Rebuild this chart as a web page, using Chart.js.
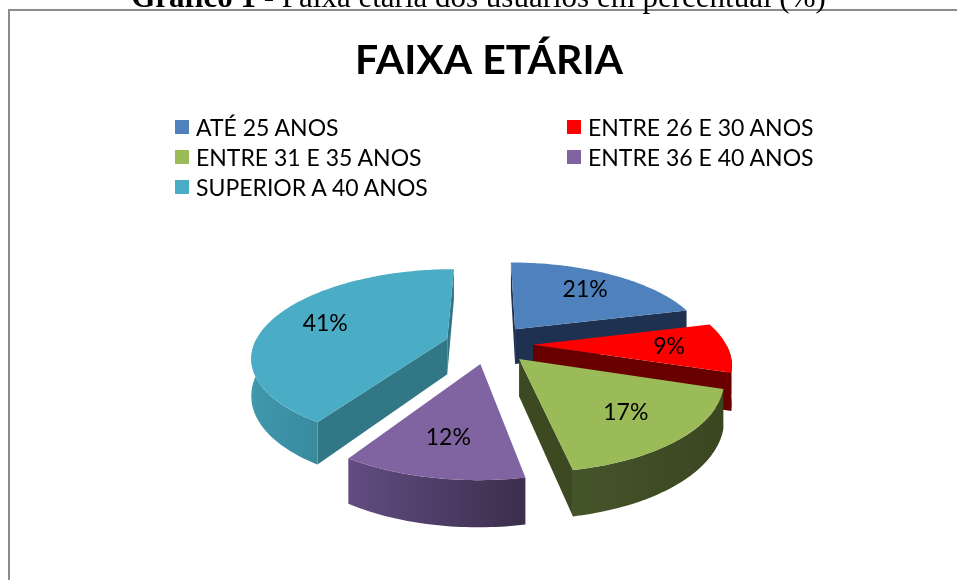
<!DOCTYPE html>
<html>
<head>
<meta charset="utf-8">
<script src="https://cdn.jsdelivr.net/npm/chart.js@4.4.1/dist/chart.umd.min.js"></script>
<style>
  html, body { margin: 0; padding: 0; background: #fff; overflow: hidden; }
  body { width: 957px; height: 580px; position: relative; }
  #caption { position: absolute; left: 0; top: -19px; width: 957px; text-align: center; white-space: nowrap;
    font-family: "Liberation Serif", "Times New Roman", serif; font-size: 31px; line-height: 31px; color: #000; z-index: 3; }
  #frame { position: absolute; left: 8px; top: 9px; width: 990px; height: 620px; border: 2px solid #8c8c8c; box-sizing: border-box; }
  #chart-canvas { position: absolute; left: 0; top: 0; z-index: 1; }
  #legend { position: absolute; left: 175px; top: 112px; z-index: 2; display: grid; grid-template-columns: 392px auto;
    font-family: Lato, "Open Sans", sans-serif; font-size: 23px; line-height: 30px; color: #000; }
  #legend .item { display: flex; align-items: center; white-space: nowrap; }
  #legend .box { width: 14px; height: 14px; margin-right: 7px; display: inline-block; }
</style>
</head>
<body>
<div id="caption"><b>Gráfico 1</b> - Faixa etária dos usuários em percentual (%)</div>
<div id="frame"></div>
<canvas id="chart-canvas" width="957" height="580"></canvas>
<div id="legend"></div>
<script>
const ageGroups = ['ATÉ 25 ANOS', 'ENTRE 26 E 30 ANOS', 'ENTRE 31 E 35 ANOS', 'ENTRE 36 E 40 ANOS', 'SUPERIOR A 40 ANOS'];
const percentages = [21, 9, 17, 12, 41];

const topColors = ['#4f81bd', '#ff0000', '#9bbb59', '#8064a2', '#4bacc6'];
const cutColors = ['#1f3150', '#680000', '#3d4a21', '#4d3b63', '#327786'];
const rimColors = [['#2f4d72', '#1f3150'], ['#7a0000', '#5c0000'], ['#45552a', '#3a4620'], ['#624c82', '#3c2e4c'], ['#3f98ad', '#3a8a9e']];

// fake 3D look
const TILT = 0.44, COSA = 0.9, DEPTH = 40, PERSP = 1000, EXPLODE = 44, LABEL_POS = 0.7;

const pie3d = {
  id: 'pie3d',
  beforeDatasetsDraw(chart) {
    const ctx = chart.ctx;
    const arcs = chart.getDatasetMeta(0).data;
    const cx = arcs[0].x, cy = arcs[0].y;
    const proj = (wx, wy, wz) => {
      const s = PERSP / (PERSP - wy);
      return [cx + wx * s, cy + (wy * TILT - wz * COSA) * s];
    };

    const slices = arcs.map((arc, i) => {
      const a0 = arc.startAngle, a1 = arc.endAngle, R = arc.outerRadius;
      const mid = (a0 + a1) / 2;
      const ox = Math.cos(mid) * EXPLODE, oy = Math.sin(mid) * EXPLODE;
      const rim = (a, z) => proj(ox + R * Math.cos(a), oy + R * Math.sin(a), z);
      const tip = z => proj(ox, oy, z);
      return { i, a0, a1, R, mid, ox, oy, rim, tip };
    });

    const arcPts = (sl, from, to, z) => {
      const n = Math.max(2, Math.ceil(Math.abs(to - from) / 0.02));
      const pts = [];
      for (let k = 0; k <= n; k++) pts.push(sl.rim(from + (to - from) * k / n, z));
      return pts;
    };
    const fillPoly = (pts, color) => {
      ctx.beginPath();
      ctx.moveTo(pts[0][0], pts[0][1]);
      for (let k = 1; k < pts.length; k++) ctx.lineTo(pts[k][0], pts[k][1]);
      ctx.closePath();
      ctx.fillStyle = color;
      ctx.fill();
    };
    const area = pts => {
      let s = 0;
      for (let k = 0; k < pts.length; k++) {
        const p = pts[k], q = pts[(k + 1) % pts.length];
        s += p[0] * q[1] - q[0] * p[1];
      }
      return s;
    };

    // sides, back to front
    [...slices].sort((a, b) => a.oy - b.oy).forEach(sl => {
      const f0 = [sl.tip(0), sl.rim(sl.a0, 0), sl.rim(sl.a0, -DEPTH), sl.tip(-DEPTH)];
      if (area(f0) < 0) fillPoly(f0, cutColors[sl.i]);
      const f1 = [sl.tip(0), sl.rim(sl.a1, 0), sl.rim(sl.a1, -DEPTH), sl.tip(-DEPTH)];
      if (area(f1) > 0) fillPoly(f1, cutColors[sl.i]);
      const s = Math.max(sl.a0, 0), e = Math.min(sl.a1, Math.PI);
      if (e > s) {
        const top = arcPts(sl, s, e, 0);
        const bot = arcPts(sl, e, s, -DEPTH);
        const xs = top.map(p => p[0]);
        const g = ctx.createLinearGradient(Math.min(...xs), 0, Math.max(...xs), 0);
        g.addColorStop(0, rimColors[sl.i][0]);
        g.addColorStop(1, rimColors[sl.i][1]);
        fillPoly(top.concat(bot), g);
      }
    });

    // top faces
    slices.forEach(sl => {
      fillPoly([sl.tip(0)].concat(arcPts(sl, sl.a0, sl.a1, 0)), topColors[sl.i]);
    });

    // value labels
    ctx.font = '23px Lato';
    ctx.fillStyle = '#000';
    ctx.textAlign = 'center';
    ctx.textBaseline = 'middle';
    slices.forEach(sl => {
      const d = sl.R * LABEL_POS;
      const p = proj(sl.ox + Math.cos(sl.mid) * d, sl.oy + Math.sin(sl.mid) * d, 0);
      ctx.fillText(percentages[sl.i] + '%', p[0], p[1]);
    });
    return false;
  }
};

const chartCtx = document.getElementById('chart-canvas');

const pieChart = new Chart(chartCtx, {
  type: 'pie',
  data: {
    labels: ageGroups,
    datasets: [{
      label: 'Faixa etária',
      data: percentages,
      backgroundColor: topColors,
      borderWidth: 0
    }]
  },
  options: {
    responsive: false,
    animation: false,
    radius: 193,
    layout: { padding: { left: 21, right: 0, top: 0, bottom: 0 } },
    plugins: {
      legend: { display: false },
      tooltip: { enabled: false },
      title: {
        display: true,
        text: 'FAIXA ETÁRIA',
        color: '#000',
        font: { family: 'Lato', size: 41, weight: 'bold' },
        padding: { top: 36, bottom: 23 }
      }
    }
  },
  plugins: [pie3d]
});

// legend in two columns, like the original
const legendEl = document.getElementById('legend');
ageGroups.forEach((name, i) => {
  const item = document.createElement('div');
  item.className = 'item';
  const box = document.createElement('span');
  box.className = 'box';
  box.style.background = topColors[i];
  item.appendChild(box);
  item.appendChild(document.createTextNode(name));
  legendEl.appendChild(item);
});
</script>
</body>
</html>
